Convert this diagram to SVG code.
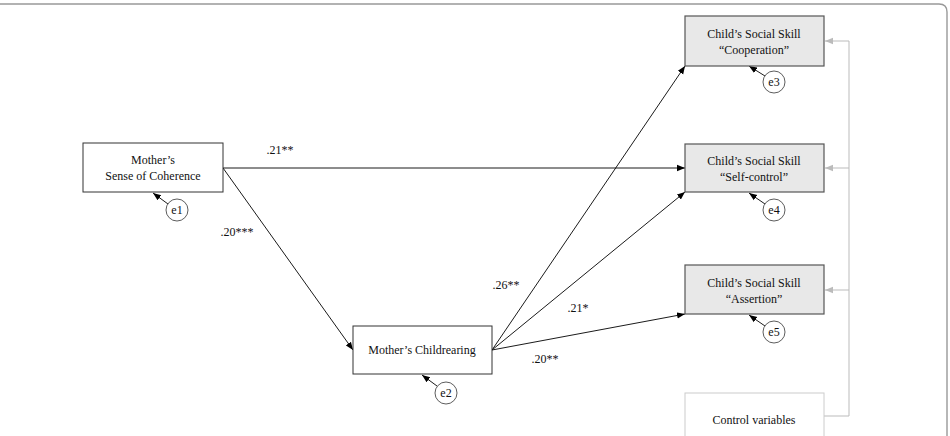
<svg xmlns="http://www.w3.org/2000/svg" width="950" height="436" viewBox="0 0 950 436">
<defs>
<marker id="ah" markerWidth="8" markerHeight="8" viewBox="0 0 10 10" refX="10" refY="5" orient="auto" markerUnits="userSpaceOnUse">
<path d="M0,1 L10,5 L0,9 Z" fill="#000"/>
</marker>
<marker id="ahg" markerWidth="8" markerHeight="8" viewBox="0 0 10 10" refX="10" refY="5" orient="auto" markerUnits="userSpaceOnUse">
<path d="M0,1 L10,5 L0,9 Z" fill="#bbb"/>
</marker>
</defs>
<style>
text{font-family:'Liberation Serif','DejaVu Serif',serif;font-size:12px;fill:#111;text-anchor:middle}
.box{fill:#fff;stroke:#333;stroke-width:1}
.gbox{fill:#e8e8e8;stroke:#555;stroke-width:1.2}
.cbox{fill:#fff;stroke:#ccc;stroke-width:1}
.err{fill:#fff;stroke:#333;stroke-width:0.8}
.c{fill:none;stroke:#000;stroke-width:0.9;marker-end:url(#ah)}
.g{fill:none;stroke:#bbb;stroke-width:1}
.ga{fill:none;stroke:#bbb;stroke-width:1;marker-end:url(#ahg)}
</style>
<rect width="950" height="436" fill="#fff"/>
<path d="M-2,4 H939 Q947,4 947,12 V437" fill="none" stroke="#999" stroke-width="1.4"/>
<g id="connectors" font-family="Liberation Serif, serif">
<line class="c" x1="223" y1="168" x2="685" y2="168"/>
<line class="c" x1="223" y1="168" x2="353" y2="350"/>
<line class="c" x1="492" y1="350" x2="685" y2="66"/>
<line class="c" x1="492" y1="350" x2="685" y2="192"/>
<line class="c" x1="492" y1="350" x2="685" y2="314"/>
<line class="c" x1="168" y1="204" x2="153" y2="193"/>
<line class="c" x1="437" y1="386" x2="422" y2="375"/>
<line class="c" x1="765" y1="76" x2="749" y2="66"/>
<line class="c" x1="765" y1="204" x2="749" y2="193"/>
<line class="c" x1="765" y1="326" x2="749" y2="315"/>
<path class="g" d="M824,416 H849 V41"/>
<line class="ga" x1="849" y1="41" x2="825" y2="41"/>
<line class="ga" x1="849" y1="168" x2="825" y2="168"/>
<line class="ga" x1="849" y1="290" x2="825" y2="290"/>
<text x="280" y="154">.21**</text>
<text x="237" y="236">.20***</text>
<text x="506" y="289">.26**</text>
<text x="578" y="312">.21*</text>
<text x="545" y="363">.20**</text>
</g>
<g id="soc">
<rect class="box" x="83" y="143" width="140" height="49"/>
<text x="153" y="164">Mother’s</text>
<text x="153" y="180">Sense of Coherence</text>
</g>
<g id="e1"><circle class="err" cx="177" cy="210" r="11"/><text x="177" y="214">e1</text></g>
<g id="childrearing">
<rect class="box" x="353" y="326" width="139" height="48"/>
<text x="422" y="354">Mother’s Childrearing</text>
</g>
<g id="e2"><circle class="err" cx="446" cy="393" r="11"/><text x="446" y="397">e2</text></g>
<g id="cooperation">
<rect class="gbox" x="685" y="16" width="139" height="50"/>
<text x="754" y="38">Child’s Social Skill</text>
<text x="754" y="54">“Cooperation”</text>
</g>
<g id="e3"><circle class="err" cx="774" cy="82" r="11"/><text x="774" y="86">e3</text></g>
<g id="selfcontrol">
<rect class="gbox" x="685" y="144" width="139" height="48"/>
<text x="754" y="165">Child’s Social Skill</text>
<text x="754" y="181">“Self-control”</text>
</g>
<g id="e4"><circle class="err" cx="774" cy="210" r="11"/><text x="774" y="214">e4</text></g>
<g id="assertion">
<rect class="gbox" x="685" y="265" width="139" height="49"/>
<text x="754" y="287">Child’s Social Skill</text>
<text x="754" y="303">“Assertion”</text>
</g>
<g id="e5"><circle class="err" cx="774" cy="332" r="11"/><text x="774" y="336">e5</text></g>
<g id="control">
<rect class="cbox" x="685" y="393" width="139" height="50"/>
<text x="754" y="424">Control variables</text>
</g>
</svg>
